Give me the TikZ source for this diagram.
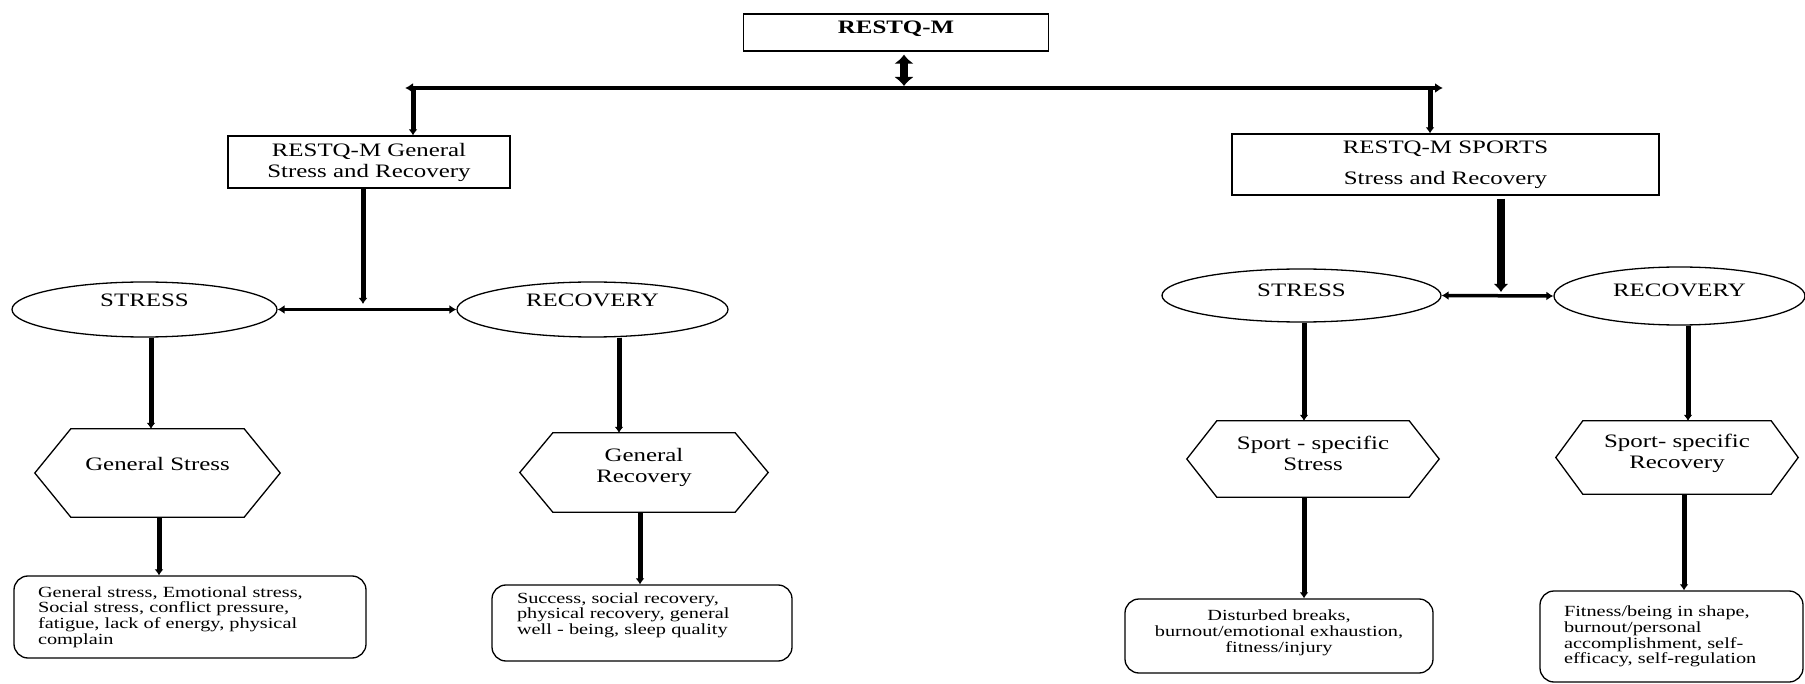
\documentclass[tikz,border=0pt]{standalone}
\usepackage{fontspec}
\setmainfont{Liberation Serif}[FakeStretch=1.31]
\usetikzlibrary{shapes.geometric,arrows.meta}
\newcommand\hdfont{\fontsize{19}{21}\selectfont}
\newcommand\bxfont{\fontsize{15.5}{15.7}\selectfont}
\newcommand\lowstrut[1]{\rule[-#1]{0pt}{1pt}}
\newcommand\drawhex[2]{\draw[shapeline] ([xshift=#2]#1.north west) -- ([xshift=-#2]#1.north east) -- (#1.east) -- ([xshift=-#2]#1.south east) -- ([xshift=#2]#1.south west) -- (#1.west) -- cycle;}
\begin{document}
\begin{tikzpicture}[x=1pt,y=-1pt,
  shapeline/.style={draw=black,line width=1.3pt,line join=miter},
  hbox/.style={shapeline,rectangle,inner sep=0pt,font=\hdfont,align=center},
  ell/.style={shapeline,ellipse,inner sep=0pt,font=\hdfont},
  hexn/.style={rectangle,inner sep=0pt,font=\hdfont,align=center},
  lbox/.style={shapeline,rectangle,rounded corners=14pt,inner sep=0pt,font=\bxfont,align=left},
  cbox/.style={shapeline,rectangle,rounded corners=14pt,inner sep=0pt,font=\bxfont,align=center},
  conn/.style={line width=5pt,-{Latex[length=6pt,width=9pt]}},
  bigconn/.style={line width=8pt,-{Latex[length=8pt,width=15pt]}},
  hconn/.style={line width=3.5pt,{Latex[length=7pt,width=9pt]}-{Latex[length=7pt,width=9pt]}},
  barline/.style={line width=4.7pt,{Latex[length=8pt,width=10pt]}-{Latex[length=8pt,width=10pt]}},
  dblarrow/.style={line width=8pt,{Latex[length=9pt,width=20pt]}-{Latex[length=9pt,width=20pt]}}
]
\useasboundingbox (0,0) rectangle (1805,684);

% top
\node[hbox,minimum width=305pt,minimum height=37pt,text depth=10pt,font=\hdfont\bfseries] (rq) at (896,32.5) {RESTQ-M};
\coordinate (barL) at (405,88);
\coordinate (barR) at (1443,88);
\coordinate (barM) at (904,88);
\coordinate (dropL) at (413,88);
\coordinate (dropR) at (1430,88);
\draw[barline] (barL) -- (barR);
\draw[dblarrow] ([yshift=-3pt]rq.south -| barM) -- ([yshift=2pt]barM);

% second level boxes
\node[hbox,minimum width=282pt,minimum height=52pt] (gen) at (369,162) {RESTQ-M General\\Stress and Recovery};
\node[hbox,minimum width=427pt,minimum height=61pt] (spo) at (1445.5,164.5) {RESTQ-M SPORTS\\[10pt]Stress and Recovery};
\draw[conn] (dropL) -- (gen.north -| dropL);
\draw[conn] (dropR) -- (spo.north -| dropR);

% ellipses
\node[ell,minimum width=265pt,minimum height=55pt,text depth=18pt] (s1) at (144.5,309.5) {STRESS};
\node[ell,minimum width=271pt,minimum height=55pt,text depth=18pt] (r1) at (592.5,309.5) {RECOVERY};
\node[ell,minimum width=279pt,minimum height=53pt,text depth=10pt] (s2) at (1301.5,295.5) {STRESS};
\node[ell,minimum width=251pt,minimum height=58pt,text depth=12pt] (r2) at (1679.5,296) {RECOVERY};

\coordinate (jL) at (363,304);
\coordinate (jR) at (1501,292);
\draw[conn] (gen.south -| jL) -- (jL);
\draw[hconn] (s1.east) -- (r1.west);
\draw[bigconn] ([yshift=-3pt]spo.south -| jR) -- (jR);
\draw[hconn] (s2.east) -- (r2.west);

% hexagons
\node[hexn,minimum width=245pt,minimum height=88pt,text depth=18pt] (h1) at (157.5,473) {General Stress};
\drawhex{h1}{36pt}
\node[hexn,minimum width=248pt,minimum height=79pt] (h2) at (644,472.5) {General\\Recovery\lowstrut{14pt}};
\drawhex{h2}{33pt}
\node[hexn,minimum width=252pt,minimum height=76pt] (h3) at (1313,459) {Sport - specific\\Stress\lowstrut{12pt}};
\drawhex{h3}{30pt}
\node[hexn,minimum width=242pt,minimum height=73pt] (h4) at (1677,457.5) {Sport- specific\\Recovery\lowstrut{12pt}};
\drawhex{h4}{27pt}

\draw[conn] ([xshift=6.5pt]s1.south) -- ([xshift=6.5pt]s1.south |- h1.north);
\draw[conn] ([xshift=26.5pt]r1.south) -- ([xshift=26.5pt]r1.south |- h2.north);
\draw[conn] ([xshift=2.5pt]s2.south) -- ([xshift=2.5pt]s2.south |- h3.north);
\draw[conn] ([xshift=8.5pt]r2.south) -- ([xshift=8.5pt]r2.south |- h4.north);

% bottom boxes
\node[lbox,minimum width=352pt,minimum height=82pt,text width=304pt] (b1) at (190,617)
  {General stress, Emotional stress,\\Social stress, conflict pressure,\\fatigue, lack of energy, physical\\complain};
\node[lbox,minimum width=300pt,minimum height=76pt,text width=250pt] (b2) at (642,623)
  {Success, social recovery,\\physical recovery, general\\well - being, sleep quality\lowstrut{19pt}};
\node[cbox,minimum width=308pt,minimum height=74pt,text width=290pt] (b3) at (1279,636)
  {Disturbed breaks,\\burnout/emotional exhaustion,\\fitness/injury\lowstrut{10pt}};
\node[lbox,minimum width=263pt,minimum height=91pt,text width=215pt] (b4) at (1671.5,636.5)
  {Fitness/being in shape,\\burnout/personal\\accomplishment, self-\\efficacy, self-regulation\\[4pt]};

\draw[conn] ([xshift=1.5pt]h1.south) -- ([xshift=1.5pt]h1.south |- b1.north);
\draw[conn] ([xshift=-4pt]h2.south) -- ([xshift=-4pt]h2.south |- b2.north);
\draw[conn] ([xshift=-9pt]h3.south) -- ([xshift=-9pt]h3.south |- b3.north);
\draw[conn] ([xshift=7pt]h4.south) -- ([xshift=7pt]h4.south |- b4.north);
\end{tikzpicture}
\end{document}
